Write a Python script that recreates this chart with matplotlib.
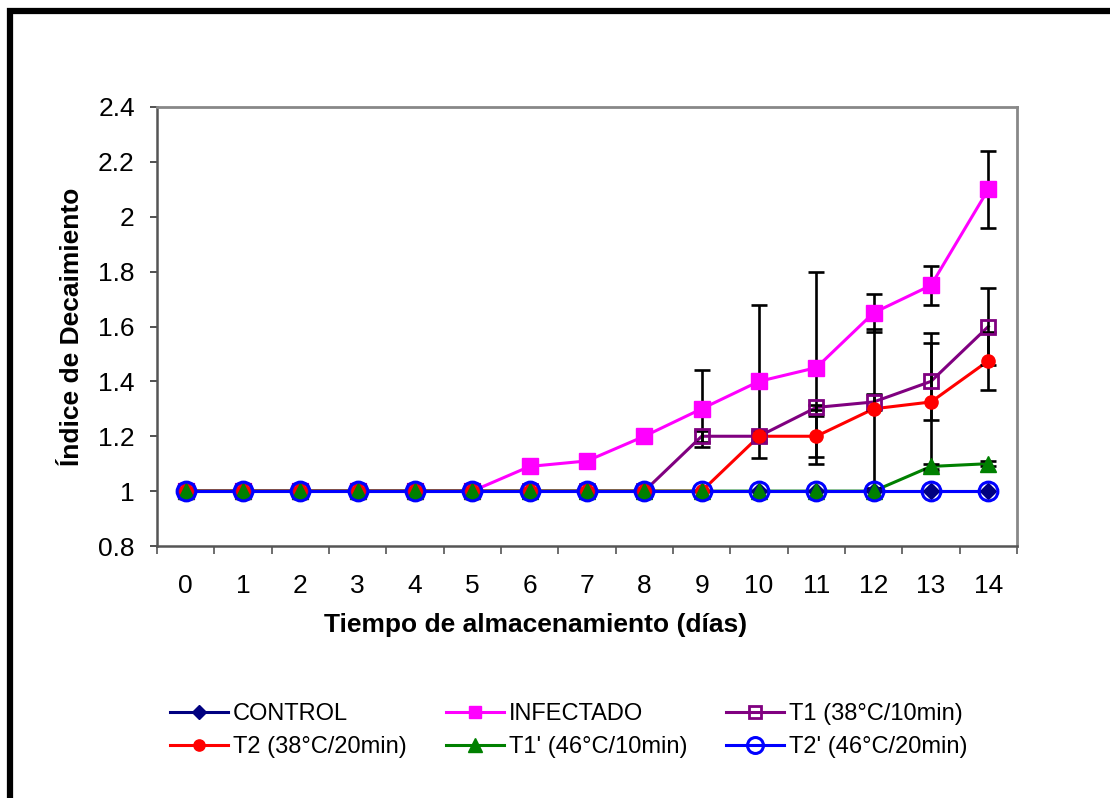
import numpy as np
import matplotlib
matplotlib.use("Agg")
import matplotlib.pyplot as plt
from matplotlib.lines import Line2D

plt.rcParams['font.family'] = ['Liberation Sans', 'DejaVu Sans']

days = list(range(15))
day_labels = [str(d) for d in days]

control   = [1.0, 1.0, 1.0, 1.0, 1.0, 1.0, 1.0, 1.0, 1.0, 1.0, 1.0, 1.0, 1.0, 1.0, 1.0]
infectado = [1.0, 1.0, 1.0, 1.0, 1.0, 1.0, 1.09, 1.11, 1.2, 1.3, 1.4, 1.45, 1.65, 1.75, 2.1]
t1        = [1.0, 1.0, 1.0, 1.0, 1.0, 1.0, 1.0, 1.0, 1.0, 1.2, 1.2, 1.305, 1.325, 1.4, 1.6]
t2        = [1.0, 1.0, 1.0, 1.0, 1.0, 1.0, 1.0, 1.0, 1.0, 1.0, 1.2, 1.2, 1.3, 1.325, 1.475]
t1p       = [1.0, 1.0, 1.0, 1.0, 1.0, 1.0, 1.0, 1.0, 1.0, 1.0, 1.0, 1.0, 1.0, 1.09, 1.1]
t2p       = [1.0, 1.0, 1.0, 1.0, 1.0, 1.0, 1.0, 1.0, 1.0, 1.0, 1.0, 1.0, 1.0, 1.0, 1.0]

infectado_err = [0, 0, 0, 0, 0, 0, 0, 0, 0, 0.14, 0.28, 0.35, 0.07, 0.07, 0.14]
t1_err        = [0, 0, 0, 0, 0, 0, 0, 0, 0, 0.02, 0.02, 0.01, 0.03, 0.14, 0.14]
t2_err        = [0, 0, 0, 0, 0, 0, 0, 0, 0, 0, 0.01, 0.075, 0.29, 0.25, 0.105]
t1p_err       = [0, 0, 0, 0, 0, 0, 0, 0, 0, 0, 0, 0, 0, 0.01, 0.01]

names = ["CONTROL", "INFECTADO", "T1 (38°C/10min)", "T2 (38°C/20min)",
         "T1' (46°C/10min)", "T2' (46°C/20min)"]

series = [
    (control,   None,          dict(color='#000080', marker='D', ms=8,  mfc='#000080', mec='#000080', mew=1)),
    (infectado, infectado_err, dict(color='#FF00FF', marker='s', ms=11, mfc='#FF00FF', mec='#FF00FF', mew=1)),
    (t1,        t1_err,        dict(color='#800080', marker='s', ms=10, mfc='none', mec='#800080', mew=2)),
    (t2,        t2_err,        dict(color='#FF0000', marker='o', ms=9.5, mfc='#FF0000', mec='#FF0000', mew=1)),
    (t1p,       t1p_err,       dict(color='#008000', marker='^', ms=11.5, mfc='#008000', mec='#008000', mew=1)),
    (t2p,       None,          dict(color='#0000FF', marker='o', ms=13.5, mfc='none', mec='#0000FF', mew=2.2)),
]

W, H = 1110, 798
fig = plt.figure(figsize=(W / 100, H / 100), dpi=100)
ax = fig.add_axes([157 / W, 1 - 546 / H, 860 / W, 439 / H])

x = np.array(days)
handles = []
for i, (vals, err, st) in enumerate(series):
    vals = np.array(vals, dtype=float)
    ax.plot(x, vals, color=st['color'], lw=2.2, zorder=2)
    if err is not None:
        e = np.array(err, dtype=float)
        m = e > 0
        ax.errorbar(x[m], vals[m], yerr=e[m], fmt='none', ecolor='black',
                    elinewidth=1.9, capsize=6, capthick=1.9, zorder=3)
    ax.plot(x, vals, ls='none', marker=st['marker'], ms=st['ms'],
            mfc=st['mfc'], mec=st['mec'], mew=st['mew'], zorder=4 + i * 0.1)
    handles.append(Line2D([], [], color=st['color'], lw=2.2, marker=st['marker'],
                          ms=st['ms'] * 0.85, mfc=st['mfc'], mec=st['mec'], mew=st['mew']))

ax.set_xlim(-0.5, 14.5)
ax.set_ylim(0.8, 2.4)
ax.set_yticks([0.8, 1.0, 1.2, 1.4, 1.6, 1.8, 2.0, 2.2, 2.4])
ax.set_yticklabels(['0.8', '1', '1.2', '1.4', '1.6', '1.8', '2', '2.2', '2.4'])
ax.set_xticks(x)
ax.set_xticklabels(day_labels)
ax.set_xticks(np.arange(-0.5, 15, 1.0), minor=True)
ax.tick_params(axis='x', which='major', length=0, pad=20, labelsize=19)
ax.tick_params(axis='x', which='minor', length=6, width=1.2, color='#555555', direction='out')
ax.tick_params(axis='y', which='major', length=5, width=1.2, color='#333333', pad=11, labelsize=19)

for side in ['left', 'bottom']:
    ax.spines[side].set_color('#555555')
    ax.spines[side].set_linewidth(1.8)
for side in ['top', 'right']:
    ax.spines[side].set_color('#888888')
    ax.spines[side].set_linewidth(2)

ax.set_xlabel('Tiempo de almacenamiento (días)', fontsize=19, fontweight='bold', va='center')
ax.xaxis.set_label_coords((536 - 157) / 860, (546 - 625) / 439)
ax.set_ylabel('Índice de Decaimiento', fontsize=19, fontweight='bold', va='center')
ax.yaxis.set_label_coords((72 - 157) / 860, 0.5)

order = [0, 3, 1, 4, 2, 5]
fig.legend([handles[k] for k in order], [names[k] for k in order], ncol=3,
           loc='center left', bbox_to_anchor=(170 / W, 1 - 730.5 / H),
           frameon=False, fontsize=17, handlelength=2.45, handletextpad=0.22,
           columnspacing=1.65, labelspacing=0.48, borderpad=0, borderaxespad=0)

fig.add_artist(Line2D([10 / W, 10 / W, 1.0], [0.0, 1 - 11 / H, 1 - 11 / H],
                      transform=fig.transFigure, color='black', lw=4.5,
                      solid_joinstyle='miter'))

fig.savefig('out.png', dpi=100)
